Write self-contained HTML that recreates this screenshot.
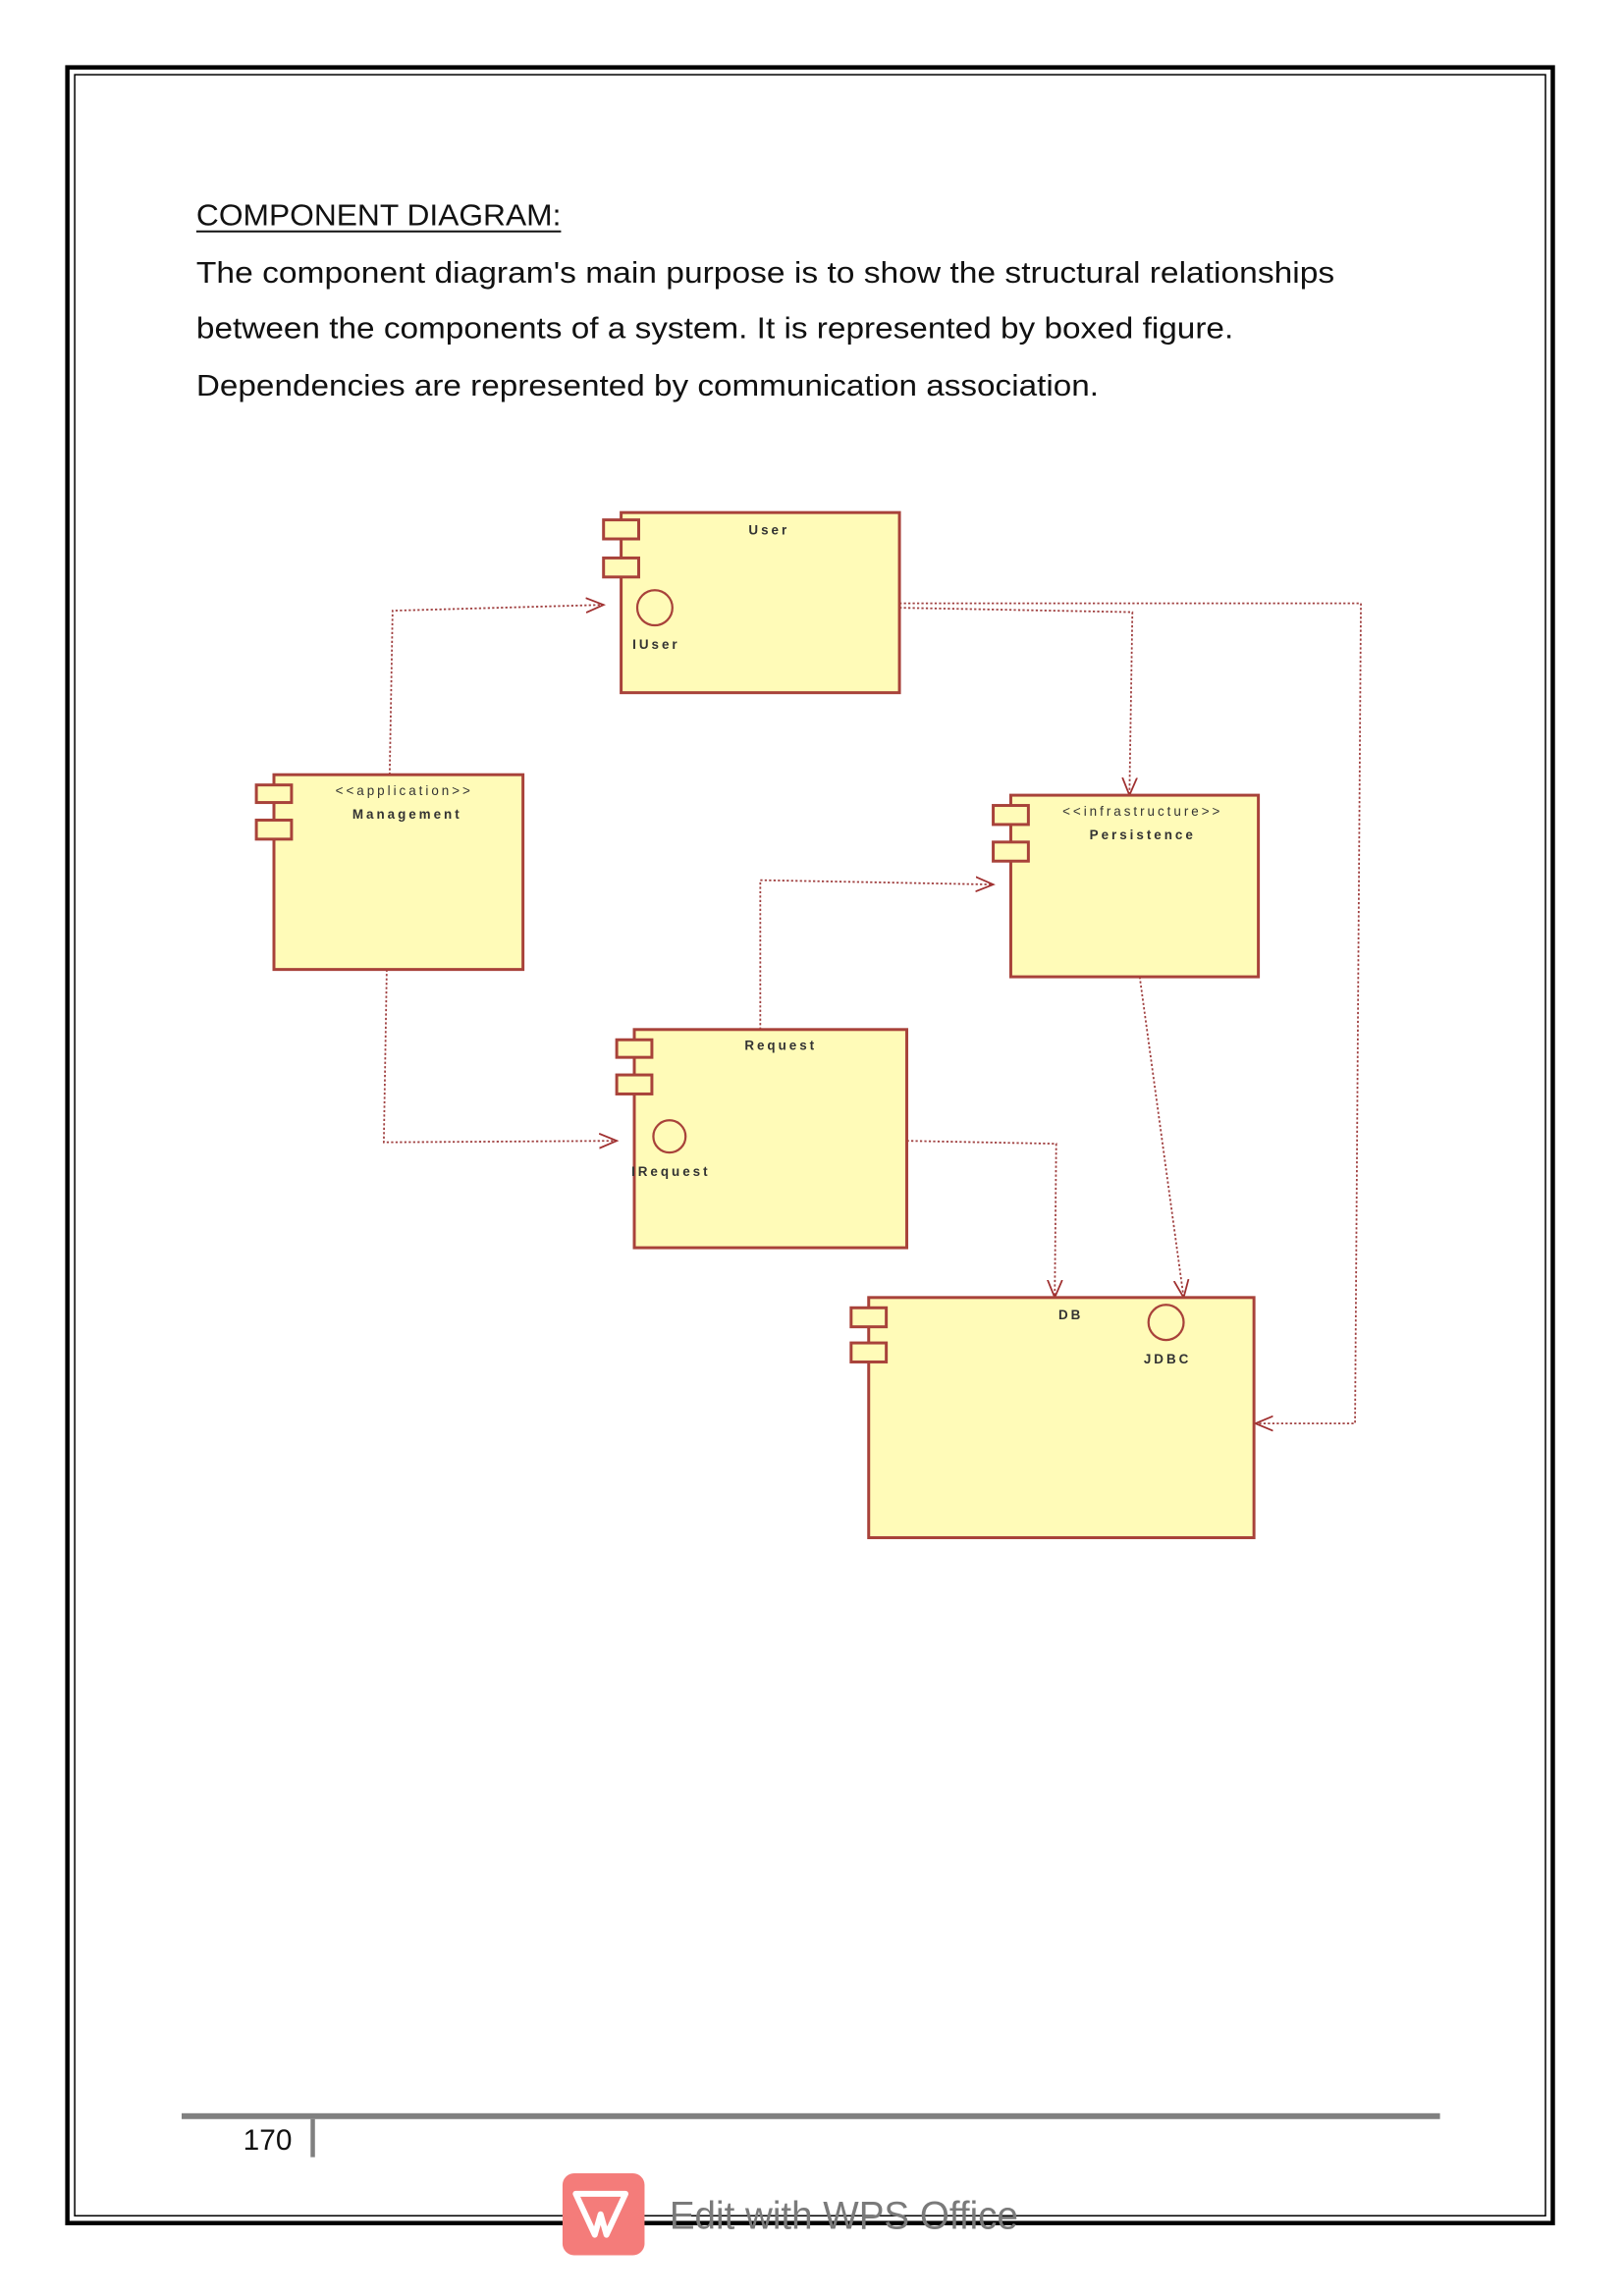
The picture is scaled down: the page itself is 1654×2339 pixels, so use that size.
<!DOCTYPE html>
<html><head><meta charset="utf-8"><style>
html,body{margin:0;padding:0;background:#fff}
svg{display:block}
</style></head><body>
<svg width="1654" height="2339" viewBox="0 0 1108.6 1567.8" preserveAspectRatio="none" xmlns="http://www.w3.org/2000/svg" font-family="Liberation Sans, sans-serif">
<rect x="46" y="46" width="1014" height="1472" fill="none" stroke="#000" stroke-width="3"/>
<rect x="51" y="51" width="1004" height="1462" fill="none" stroke="#000" stroke-width="1"/>
<g font-size="20.5" fill="#111">
<text x="134" y="154" textLength="249" lengthAdjust="spacingAndGlyphs">COMPONENT DIAGRAM:</text>
<line x1="134" y1="158" x2="383" y2="158" stroke="#111" stroke-width="1.3"/>
<text x="134" y="193" textLength="777" lengthAdjust="spacingAndGlyphs">The component diagram's main purpose is to show the structural relationships</text>
<text x="134" y="231" textLength="708" lengthAdjust="spacingAndGlyphs">between the components of a system. It is represented by boxed figure.</text>
<text x="134" y="270" textLength="616" lengthAdjust="spacingAndGlyphs">Dependencies are represented by communication association.</text>
</g>
<defs><marker id="a" markerWidth="14" markerHeight="12" refX="12" refY="6" orient="auto" markerUnits="userSpaceOnUse"><path d="M0,1 L12,6 L0,11" fill="none" stroke="#a03030" stroke-width="1.2"/></marker></defs>
<g fill="none" stroke="#a04040" stroke-width="1.2" stroke-dasharray="1.5,1.5">
<polyline points="266,529 268,417 412,413" marker-end="url(#a)"/>
<polyline points="614,412 929,412 925,972 857,972" marker-end="url(#a)"/>
<polyline points="614,415 773,418 771,543" marker-end="url(#a)"/>
<polyline points="519,703 519,601 678,604" marker-end="url(#a)"/>
<polyline points="264,662 262,780 421,779" marker-end="url(#a)"/>
<polyline points="619,779 721,781 720,886" marker-end="url(#a)"/>
<polyline points="778,667 808,886" marker-end="url(#a)"/>
</g>
<g fill="#fffbb8" stroke="#a8423a" stroke-width="2">
<rect x="424" y="350" width="190" height="123"/>
<rect x="412" y="355" width="24" height="13"/><rect x="412" y="381" width="24" height="13"/>
<rect x="187" y="529" width="170" height="133"/>
<rect x="175" y="536" width="24" height="12"/><rect x="175" y="560" width="24" height="13"/>
<rect x="690" y="543" width="169" height="124"/>
<rect x="678" y="550" width="24" height="13"/><rect x="678" y="575" width="24" height="13"/>
<rect x="433" y="703" width="186" height="149"/>
<rect x="421" y="710" width="24" height="12"/><rect x="421" y="734" width="24" height="13"/>
<rect x="593" y="886" width="263" height="164"/>
<rect x="581" y="893" width="24" height="13"/><rect x="581" y="917" width="24" height="13"/>
</g>
<g fill="none" stroke="#a8423a" stroke-width="1.5">
<circle cx="447" cy="415" r="12"/><circle cx="457" cy="776" r="11"/><circle cx="796" cy="903" r="12"/>
</g>
<g font-size="9" fill="#333" letter-spacing="2" text-anchor="middle" font-weight="bold">
<text x="525" y="365">User</text>
<text x="448" y="443">IUser</text>
<text x="276" y="543" font-weight="normal">&lt;&lt;application&gt;&gt;</text>
<text x="278" y="559">Management</text>
<text x="780" y="557" font-weight="normal">&lt;&lt;infrastructure&gt;&gt;</text>
<text x="780" y="573">Persistence</text>
<text x="533" y="717">Request</text>
<text x="458" y="803">IRequest</text>
<text x="731" y="901">DB</text>
<text x="797" y="931">JDBC</text>
</g>
<rect x="124" y="1443" width="859" height="4" fill="#808080"/>
<text x="166" y="1468" font-size="20" fill="#111">170</text>
<rect x="212" y="1447" width="3" height="26" fill="#808080"/>
<rect x="384" y="1484" width="56" height="56" rx="8" fill="#f47c7a"/>
<path d="M393,1498 L427,1498 L414,1526 L410,1512 L406,1526 Z" fill="none" stroke="#fff" stroke-width="4" stroke-linejoin="round"/>
<text x="457" y="1522" font-size="27" fill="#7a7a7a" textLength="238" lengthAdjust="spacingAndGlyphs">Edit with WPS Office</text>
</svg>
</body></html>
